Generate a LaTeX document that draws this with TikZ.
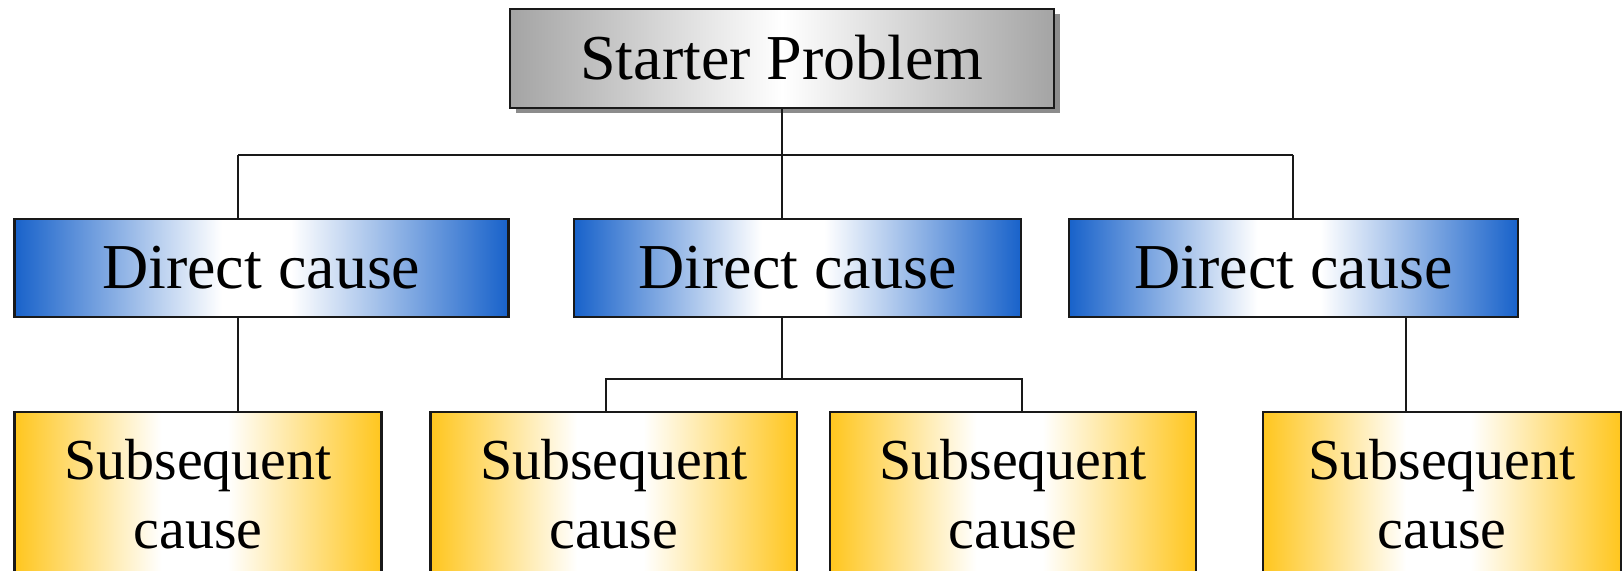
\documentclass[tikz,border=0pt]{standalone}
\usepackage{fontspec}
\setmainfont{Liberation Serif}
\usetikzlibrary{shadows}
\definecolor{dblue}{RGB}{24,98,202}
\definecolor{dyellow}{RGB}{255,198,30}
\definecolor{dgray}{RGB}{164,164,164}
\pgfdeclarehorizontalshading{blueshade}{100bp}{color(0bp)=(dblue); color(25bp)=(dblue); color(46bp)=(white); color(53bp)=(white); color(75bp)=(dblue); color(100bp)=(dblue)}
\pgfdeclarehorizontalshading{yellowshade}{100bp}{color(0bp)=(dyellow); color(25bp)=(dyellow); color(45bp)=(white); color(54bp)=(white); color(75bp)=(dyellow); color(100bp)=(dyellow)}
\pgfdeclarehorizontalshading{grayshade}{100bp}{color(0bp)=(dgray); color(25bp)=(dgray); color(50bp)=(white); color(75bp)=(dgray); color(100bp)=(dgray)}
\begin{document}
\begin{tikzpicture}[x=0.5pt,y=-0.5pt,
  boxbase/.style={draw=black!90, line width=1.4pt, inner sep=0pt, rectangle},
  startbox/.style={boxbase, shading=grayshade, minimum width=272pt, minimum height=49.5pt,
    font=\fontsize{32}{38}\selectfont, text height=21pt, text depth=0pt,
    drop shadow={shadow xshift=3pt, shadow yshift=-2.5pt, fill=black!45, opacity=1}},
  directbox/.style={boxbase, shading=blueshade, minimum height=49pt,
    font=\fontsize{32}{38}\selectfont, text height=21pt, text depth=0pt},
  subbox/.style={boxbase, shading=yellowshade, minimum height=114pt},
  subtext/.style={anchor=base, inner sep=0pt, font=\fontsize{29}{34}\selectfont},
  conn/.style={draw=black!90, line width=1pt}]
\clip (0,0) rectangle (1623,571);
\fill[white] (0,0) rectangle (1623,571);

\node[startbox] (st) at (782,58.5) {Starter Problem};

\node[directbox, minimum width=247pt] (dc1) at (261.25,268) {Direct cause};
\node[directbox, minimum width=223.5pt] (dc2) at (797.5,268) {Direct cause};
\node[directbox, minimum width=224.5pt] (dc3) at (1293.5,268) {Direct cause};

\node[subbox, minimum width=183.5pt] (sb1) at (198,526) {};
\node[subbox, minimum width=183.25pt] (sb2) at (613.75,526) {};
\node[subbox, minimum width=183pt] (sb3) at (1013,526) {};
\node[subbox, minimum width=179pt] (sb4) at (1442,526) {};

\node[subtext] (sb1a) at (198,480) {Subsequent};
\node[subtext] (sb1b) at (198,548) {cause};
\node[subtext] (sb2a) at (613.75,480) {Subsequent};
\node[subtext] (sb2b) at (613.75,548) {cause};
\node[subtext] (sb3a) at (1013,480) {Subsequent};
\node[subtext] (sb3b) at (1013,548) {cause};
\node[subtext] (sb4a) at (1442,480) {Subsequent};
\node[subtext] (sb4b) at (1442,548) {cause};

% top connectors
\coordinate (j0) at (782,155);
\coordinate (h1) at (238,155);
\coordinate (h3) at (1293,155);
\draw[conn] (st.south) -- (j0);
\draw[conn] (h1) -- (h3);
\draw[conn] (h1) -- (h1 |- dc1.north);
\draw[conn] (j0) -- (j0 |- dc2.north);
\draw[conn] (h3) -- (h3 |- dc3.north);

% lower connectors
\coordinate (l1) at (238,0);
\draw[conn] (l1 |- dc1.south) -- (l1 |- sb1.north);
\coordinate (m0) at (782,379);
\coordinate (m1) at (605.5,379);
\coordinate (m2) at (1022,379);
\draw[conn] (m0 |- dc2.south) -- (m0);
\draw[conn] (m1 |- sb2.north) -- (m1) -- (m2) -- (m2 |- sb3.north);
\coordinate (r0) at (1406,0);
\draw[conn] (r0 |- dc3.south) -- (r0 |- sb4.north);
\end{tikzpicture}
\end{document}
